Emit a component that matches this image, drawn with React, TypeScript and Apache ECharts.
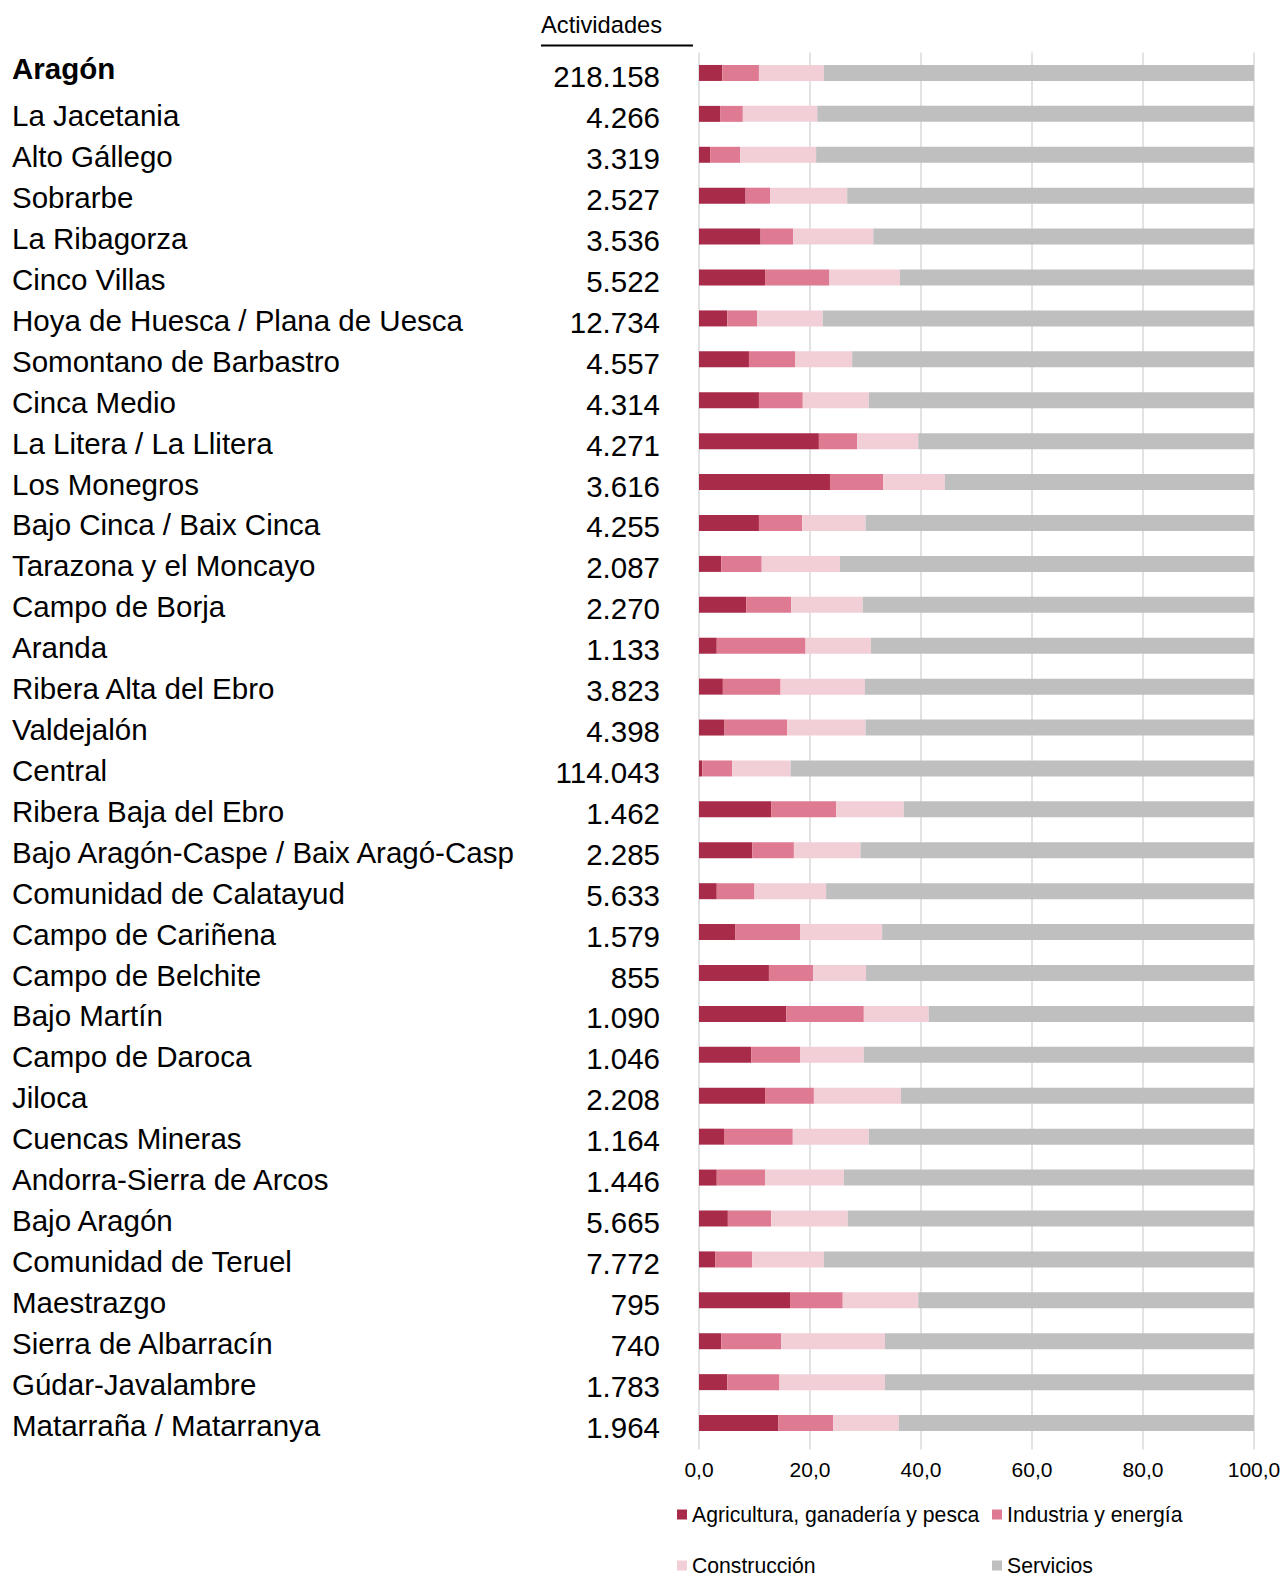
import React, { useEffect, useRef } from "react";
import * as echarts from "echarts";

const FONT = '"Liberation Sans", Arial, Helvetica, sans-serif';

const comarcas = [
  "Aragón",
  "La Jacetania",
  "Alto Gállego",
  "Sobrarbe",
  "La Ribagorza",
  "Cinco Villas",
  "Hoya de Huesca / Plana de Uesca",
  "Somontano de Barbastro",
  "Cinca Medio",
  "La Litera / La Llitera",
  "Los Monegros",
  "Bajo Cinca / Baix Cinca",
  "Tarazona y el Moncayo",
  "Campo de Borja",
  "Aranda",
  "Ribera Alta del Ebro",
  "Valdejalón",
  "Central",
  "Ribera Baja del Ebro",
  "Bajo Aragón-Caspe / Baix Aragó-Casp",
  "Comunidad de Calatayud",
  "Campo de Cariñena",
  "Campo de Belchite",
  "Bajo Martín",
  "Campo de Daroca",
  "Jiloca",
  "Cuencas Mineras",
  "Andorra-Sierra de Arcos",
  "Bajo Aragón",
  "Comunidad de Teruel",
  "Maestrazgo",
  "Sierra de Albarracín",
  "Gúdar-Javalambre",
  "Matarraña / Matarranya",
];

const actividades = [
  218158, 4266, 3319, 2527, 3536, 5522, 12734, 4557, 4314, 4271, 3616, 4255,
  2087, 2270, 1133, 3823, 4398, 114043, 1462, 2285, 5633, 1579, 855, 1090,
  1046, 2208, 1164, 1446, 5665, 7772, 795, 740, 1783, 1964,
];

const agricultura = [
  4.2, 3.8, 2.0, 8.4, 11.1, 11.9, 5.1, 9.0, 10.8, 21.6, 23.6, 10.8, 4.0, 8.5,
  3.2, 4.3, 4.6, 0.6, 13.0, 9.6, 3.2, 6.5, 12.6, 15.7, 9.4, 11.9, 4.5, 3.2, 5.2,
  2.9, 16.4, 4.0, 5.1, 14.3,
];
const industria = [
  6.6, 4.1, 5.4, 4.4, 5.9, 11.6, 5.4, 8.3, 7.9, 6.9, 9.6, 7.8, 7.3, 8.1, 16.0,
  10.4, 11.3, 5.4, 11.7, 7.5, 6.8, 11.7, 8.0, 14.0, 8.8, 8.8, 12.4, 8.7, 7.8,
  6.7, 9.5, 10.8, 9.4, 9.9,
];
const construccion = [
  11.7, 13.4, 13.7, 13.9, 14.4, 12.7, 11.8, 10.3, 11.9, 11.0, 11.1, 11.4, 14.1,
  12.9, 11.8, 15.2, 14.1, 10.5, 12.2, 12.0, 12.9, 14.8, 9.5, 11.7, 11.5, 15.7,
  13.7, 14.2, 13.8, 12.9, 13.6, 18.7, 19.0, 11.8,
];
const servicios = [
  77.5, 78.7, 78.9, 73.3, 68.6, 63.8, 77.8, 72.4, 69.4, 60.5, 55.7, 70.0, 74.6,
  70.5, 69.0, 70.1, 70.0, 83.5, 63.1, 70.9, 77.1, 67.0, 69.9, 58.6, 70.3, 63.6,
  69.4, 73.9, 73.2, 77.5, 60.5, 66.5, 66.5, 64.0,
];

const seriesNames = [
  "Agricultura, ganadería y pesca",
  "Industria y energía",
  "Construcción",
  "Servicios",
];
const seriesColors = ["#A92B4A", "#DE7B93", "#F2CFD7", "#BFBFBF"];

const fmtMiles = (n: number) =>
  String(n).replace(/\B(?=(\d{3})+(?!\d))/g, ".");

export default function App() {
  const ref = useRef<HTMLDivElement>(null);

  useEffect(() => {
    document.body.style.margin = "0";
    if (!ref.current) return;
    const chart = echarts.init(ref.current, undefined, { renderer: "svg" });

    const seriesData = [agricultura, industria, construccion, servicios];

    const legendPos = [
      { left: 677, top: 1504 },
      { left: 992, top: 1504 },
      { left: 677, top: 1555 },
      { left: 992, top: 1555 },
    ];

    chart.setOption({
      animation: false,
      backgroundColor: "#ffffff",
      textStyle: { fontFamily: FONT },
      grid: { left: 699, right: 30, top: 52.5, bottom: 132.5, containLabel: false },
      xAxis: {
        type: "value",
        min: 0,
        max: 100,
        interval: 20,
        axisLine: { show: false },
        axisTick: { show: true, length: 6, lineStyle: { color: "#D9D9D9", width: 1.5 } },
        splitLine: { show: true, lineStyle: { color: "#D9D9D9", width: 1.5 } },
        axisLabel: {
          fontSize: 21,
          color: "#000",
          fontFamily: FONT,
          margin: 15,
          formatter: (v: number) => v.toFixed(1).replace(".", ","),
        },
      },
      yAxis: [
        {
          type: "category",
          data: comarcas,
          inverse: true,
          position: "left",
          axisLine: { show: false },
          axisTick: { show: false },
          splitLine: { show: false },
          axisLabel: {
            interval: 0,
            align: "left",
            margin: 687,
            fontSize: 29.5,
            color: "#000",
            fontFamily: FONT,
            formatter: (v: string, i: number) => (i === 0 ? `{b|${v}}` : `{n|${v}}`),
            rich: {
              b: { fontSize: 29.5, fontWeight: "bold", color: "#000", fontFamily: FONT, padding: [0, 0, 8, 0] },
              n: { fontSize: 29.5, color: "#000", fontFamily: FONT, padding: [4, 0, 0, 0] },
            },
          },
        },
        {
          type: "category",
          data: actividades.map(fmtMiles),
          inverse: true,
          position: "left",
          offset: 0,
          axisLine: { show: false },
          axisTick: { show: false },
          splitLine: { show: false },
          axisLabel: {
            interval: 0,
            align: "right",
            margin: 39,
            fontSize: 29.5,
            color: "#000",
            fontFamily: FONT,
            formatter: (v: string) => `{n|${v}}`,
            rich: {
              n: { fontSize: 29.5, color: "#000", fontFamily: FONT, padding: [8, 0, 0, 0] },
            },
          },
        },
      ],
      legend: seriesNames.map((name, i) => ({
        data: [name],
        left: legendPos[i].left,
        top: legendPos[i].top,
        padding: 0,
        itemWidth: 10,
        itemHeight: 10,
        icon: "rect",
        selectedMode: false,
        textStyle: { fontSize: 21.2, color: "#000", fontFamily: FONT },
      })),
      series: seriesNames.map((name, i) => ({
        name,
        type: "bar",
        stack: "total",
        yAxisIndex: 0,
        barWidth: 16,
        itemStyle: { color: seriesColors[i] },
        emphasis: { disabled: true },
        data: seriesData[i],
      })),
      graphic: [
        {
          type: "text",
          x: 541,
          y: 25,
          style: {
            text: "Actividades",
            fill: "#000",
            fontSize: 23.7,
            fontFamily: FONT,
            verticalAlign: "middle",
            textVerticalAlign: "middle",
          },
        },
        {
          type: "line",
          shape: { x1: 541, y1: 45.5, x2: 693, y2: 45.5 },
          style: { stroke: "#000", lineWidth: 2 },
        },
      ],
    });

    return () => chart.dispose();
  }, []);

  return <div ref={ref} style={{ width: 1284, height: 1576 }} />;
}
